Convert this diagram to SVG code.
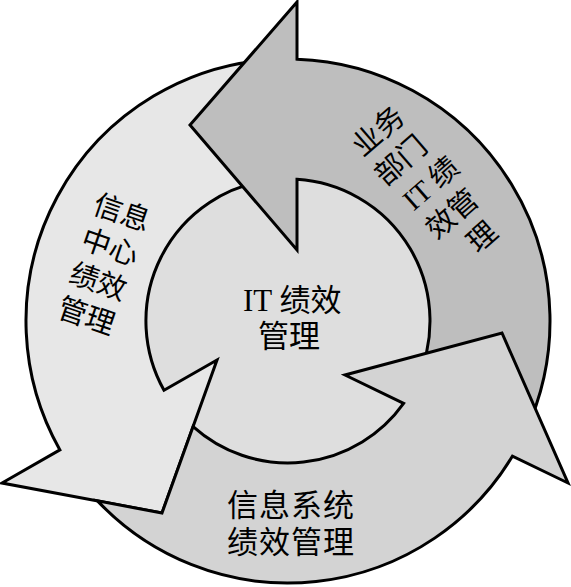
<svg xmlns="http://www.w3.org/2000/svg" width="571" height="587" viewBox="0 0 571 587">
<style>
.arrow{stroke:#000;stroke-width:3;stroke-linejoin:miter;stroke-miterlimit:6}
.t{font-family:"Liberation Serif","Noto Sans CJK SC",serif;fill:#000}
</style>
<rect width="571" height="587" fill="#fff"/>
<g id="center-node">
<circle cx="288" cy="321" r="142" fill="#dedede"/>
</g>
<g id="connectors">
<path id="arrow-info-center" class="arrow" fill="#e7e7e7" d="M 270 59.6 A 262 262 0 0 0 59.9 449.9 L 2 483 L 162 513 L 217 360 L 164 390.3 A 142 142 0 0 1 270 180.1 Z"/>
<path id="arrow-business" class="arrow" fill="#bebebe" d="M 297 59.15 A 262 262 0 0 1 525.45 431.73 L 416.69 381.01 A 142 142 0 0 0 297 179.3 L 297 250 L 190 125 L 297 2 Z"/>
<path id="arrow-system" class="arrow" fill="#d3d3d3" d="M 97.5 500.9 A 262 262 0 0 0 512.5 456.1 L 568 483 L 502 333 L 345 375 L 403.6 403.4 A 142 142 0 0 1 193.1 426.6 L 162 513 Z"/>
</g>
<g id="node-center-label" class="t" font-size="31">
<text x="243" y="311">IT 绩效</text>
<text x="258" y="347">管理</text>
</g>
<g id="node-info-center" class="t" font-size="29" transform="translate(91.2 212.7) rotate(19)">
<text x="0" y="0">信息</text>
<text x="0" y="36.5">中心</text>
<text x="0" y="73">绩效</text>
<text x="0" y="109.5">管理</text>
</g>
<g id="node-business" class="t" font-size="29" transform="translate(362.8 157.8) rotate(-41)">
<text x="0" y="0">业务</text>
<text x="-2" y="37">部门</text>
<text x="3" y="74">IT 绩</text>
<text x="1.6" y="111">效管</text>
<text x="23.5" y="148">理</text>
</g>
<g id="node-system" class="t" font-size="31" text-anchor="middle">
<text x="291" y="516" letter-spacing="1">信息系统</text>
<text x="291" y="553" letter-spacing="1">绩效管理</text>
</g>
</svg>
